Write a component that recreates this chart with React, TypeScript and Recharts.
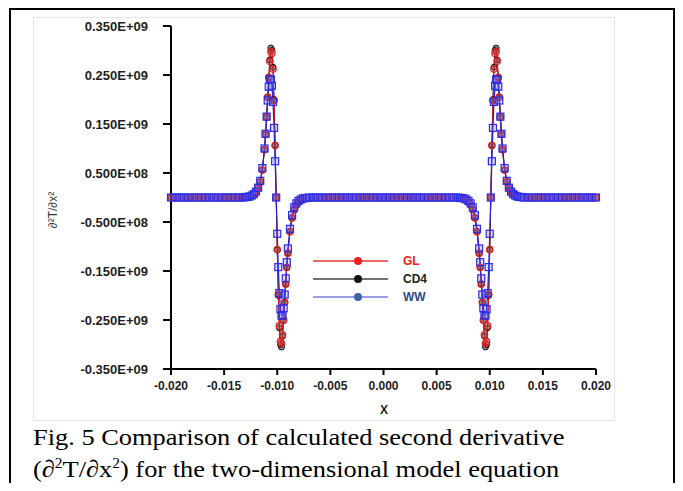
import { LineChart, Line, XAxis, YAxis, Legend } from "recharts";

// x positions (shared by all three schemes)
const xs = [
  -0.0200, -0.0196, -0.0192, -0.0188, -0.0184, -0.0180, -0.0176, -0.0172, -0.0168, -0.0164, -0.0160, -0.0156, -0.0152, -0.0148, -0.0144, -0.0140, -0.0136, -0.0132,
  -0.0130, -0.0128, -0.0126, -0.0124, -0.0122, -0.0120, -0.0118, -0.0116, -0.0114, -0.0112,
  -0.0111, -0.0110, -0.0109, -0.0108, -0.0107, -0.0106, -0.0105, -0.0104, -0.0103, -0.0102, -0.0101, -0.0100, -0.0099, -0.0098, -0.0097, -0.0096, -0.0095, -0.0094, -0.0093, -0.0092, -0.0091,
  -0.0090, -0.0088, -0.0086, -0.0084, -0.0082, -0.0080, -0.0078, -0.0076, -0.0074, -0.0072, -0.0070,
  -0.0066, -0.0062, -0.0058, -0.0054, -0.0050, -0.0046, -0.0042, -0.0038, -0.0034, -0.0030, -0.0026, -0.0022, -0.0018, -0.0014, -0.0010, -0.0006, -0.0002,
  0.0002, 0.0006, 0.0010, 0.0014, 0.0018, 0.0022, 0.0026, 0.0030, 0.0034, 0.0038, 0.0042, 0.0046, 0.0050, 0.0054, 0.0058, 0.0062, 0.0066,
  0.0070, 0.0072, 0.0074, 0.0076, 0.0078, 0.0080, 0.0082, 0.0084, 0.0086, 0.0088, 0.0090,
  0.0091, 0.0092, 0.0093, 0.0094, 0.0095, 0.0096, 0.0097, 0.0098, 0.0099, 0.0100, 0.0101, 0.0102, 0.0103, 0.0104, 0.0105, 0.0106, 0.0107, 0.0108, 0.0109, 0.0110, 0.0111,
  0.0112, 0.0114, 0.0116, 0.0118, 0.0120, 0.0122, 0.0124, 0.0126, 0.0128, 0.0130,
  0.0132, 0.0136, 0.0140, 0.0144, 0.0148, 0.0152, 0.0156, 0.0160, 0.0164, 0.0168, 0.0172, 0.0176, 0.0180, 0.0184, 0.0188, 0.0192, 0.0196, 0.0200,
];

// second derivative values, in units of 1E+09
const gl = [
  0, 0, 0, 0, 0, 0, 0, 0, 0, 0, 0, 0, 0, 0, 0, 0, 0, 0,
  0.001, 0.001, 0.002, 0.004, 0.007, 0.012, 0.020, 0.032, 0.056, 0.098,
  0.130, 0.165, 0.205, 0.245, 0.278, 0.298, 0.294, 0.262, 0.198, 0.106, 0.000, -0.106, -0.198, -0.262, -0.294, -0.298, -0.280, -0.250, -0.214, -0.177, -0.143,
  -0.114, -0.070, -0.042, -0.025, -0.015, -0.009, -0.005, -0.003, -0.002, -0.001, -0.001,
  0, 0, 0, 0, 0, 0, 0, 0, 0, 0, 0, 0, 0, 0, 0, 0, 0,
  0, 0, 0, 0, 0, 0, 0, 0, 0, 0, 0, 0, 0, 0, 0, 0, 0,
  -0.001, -0.001, -0.002, -0.003, -0.005, -0.009, -0.015, -0.025, -0.042, -0.070, -0.114,
  -0.143, -0.177, -0.214, -0.250, -0.280, -0.298, -0.294, -0.262, -0.198, -0.106, 0.000, 0.106, 0.198, 0.262, 0.294, 0.298, 0.278, 0.245, 0.205, 0.165, 0.130,
  0.098, 0.056, 0.032, 0.020, 0.012, 0.007, 0.004, 0.002, 0.001, 0.001,
  0, 0, 0, 0, 0, 0, 0, 0, 0, 0, 0, 0, 0, 0, 0, 0, 0, 0,
];

const cd4 = [
  0, 0, 0, 0, 0, 0, 0, 0, 0, 0, 0, 0, 0, 0, 0, 0, 0, 0,
  0.001, 0.001, 0.002, 0.004, 0.007, 0.012, 0.020, 0.032, 0.056, 0.097,
  0.128, 0.163, 0.204, 0.246, 0.281, 0.305, 0.300, 0.266, 0.200, 0.107, 0.000, -0.107, -0.200, -0.266, -0.300, -0.305, -0.283, -0.251, -0.214, -0.176, -0.142,
  -0.113, -0.069, -0.041, -0.025, -0.015, -0.009, -0.005, -0.003, -0.002, -0.001, -0.001,
  0, 0, 0, 0, 0, 0, 0, 0, 0, 0, 0, 0, 0, 0, 0, 0, 0,
  0, 0, 0, 0, 0, 0, 0, 0, 0, 0, 0, 0, 0, 0, 0, 0, 0,
  -0.001, -0.001, -0.002, -0.003, -0.005, -0.009, -0.015, -0.025, -0.041, -0.069, -0.113,
  -0.142, -0.176, -0.214, -0.251, -0.283, -0.305, -0.300, -0.266, -0.200, -0.107, 0.000, 0.107, 0.200, 0.266, 0.300, 0.305, 0.281, 0.246, 0.204, 0.163, 0.128,
  0.097, 0.056, 0.032, 0.020, 0.012, 0.007, 0.004, 0.002, 0.001, 0.001,
  0, 0, 0, 0, 0, 0, 0, 0, 0, 0, 0, 0, 0, 0, 0, 0, 0, 0,
];

const ww = [
  0, 0, 0, 0, 0, 0, 0, 0, 0, 0, 0, 0, 0, 0, 0, 0, 0, 0,
  0.001, 0.001, 0.002, 0.004, 0.007, 0.012, 0.020, 0.034, 0.060, 0.100,
  0.130, 0.165, 0.198, 0.226, 0.240, 0.241, 0.228, 0.195, 0.142, 0.074, 0.000, -0.074, -0.142, -0.195, -0.228, -0.241, -0.240, -0.226, -0.198, -0.165, -0.132,
  -0.104, -0.064, -0.036, -0.020, -0.012, -0.007, -0.004, -0.002, -0.001, -0.001, 0.000,
  0, 0, 0, 0, 0, 0, 0, 0, 0, 0, 0, 0, 0, 0, 0, 0, 0,
  0, 0, 0, 0, 0, 0, 0, 0, 0, 0, 0, 0, 0, 0, 0, 0, 0,
  0.000, -0.001, -0.001, -0.002, -0.004, -0.007, -0.012, -0.020, -0.036, -0.064, -0.104,
  -0.132, -0.165, -0.198, -0.226, -0.240, -0.241, -0.228, -0.195, -0.142, -0.074, 0.000, 0.074, 0.142, 0.195, 0.228, 0.241, 0.240, 0.226, 0.198, 0.165, 0.130,
  0.100, 0.060, 0.034, 0.020, 0.012, 0.007, 0.004, 0.002, 0.001, 0.001,
  0, 0, 0, 0, 0, 0, 0, 0, 0, 0, 0, 0, 0, 0, 0, 0, 0, 0,
];

const yTicks = [0.35, 0.25, 0.15, 0.05, -0.05, -0.15, -0.25, -0.35];
const yTickLabels = ["0.350E+09", "0.250E+09", "0.150E+09", "0.500E+08", "-0.500E+08", "-0.150E+09", "-0.250E+09", "-0.350E+09"];
const xTicks = [-0.02, -0.015, -0.01, -0.005, 0, 0.005, 0.01, 0.015, 0.02];
const xTickLabels = ["-0.020", "-0.015", "-0.010", "-0.005", "0.000", "0.005", "0.010", "0.015", "0.020"];

const legendItems = [
  { name: "GL", line: "#e03a3a", dot: "#e82020", text: "#e82020" },
  { name: "CD4", line: "#444444", dot: "#111111", text: "#222222" },
  { name: "WW", line: "#7a7ae0", dot: "#3a64a8", text: "#2e4c8c" },
];

const data = xs.map((x, i) => ({ x, gl: gl[i], cd4: cd4[i], ww: ww[i] }));

const sans = "'Liberation Sans', Arial, sans-serif";
const tickFont = { fontFamily: sans, fontSize: 13, fontWeight: 700, fill: "#1e1e1e" };
const xTickFont = { fontFamily: sans, fontSize: 12, fontWeight: 700, fill: "#1e1e1e" };

const SquareDot = (props: any) => {
  const { cx, cy, index } = props;
  if (cx == null || cy == null) return <g key={index} />;
  return <rect key={index} x={cx - 3.5} y={cy - 3.5} width={7} height={7} fill="rgba(110,110,255,0.25)" stroke="#2b2be6" strokeWidth={1.2} />;
};

const LegendBox = () => (
  <svg width={130} height={60}>
    {legendItems.map((it, i) => (
      <g key={it.name}>
        <line x1={8} x2={83} y1={11 + i * 18} y2={11 + i * 18} stroke={it.line} strokeWidth={1.5} />
        <circle cx={53} cy={11 + i * 18} r={4} fill={it.dot} />
        <text x={98} y={15 + i * 18} {...xTickFont} fill={it.text}>{it.name}</text>
      </g>
    ))}
  </svg>
);

// page frames (only the area inside the body margin is photographed)
const Frames = () => (
  <svg width={683} height={491} style={{ position: "absolute", left: 0, top: 0, pointerEvents: "none", zIndex: 5 }}>
    <rect x={33.5} y={17.5} width={581} height={403} fill="none" stroke="#e4e4e4" strokeWidth={1} />
    <rect x={10} y={9} width={664} height={500} fill="none" stroke="#000" strokeWidth={2} />
  </svg>
);

export default function App() {
  return (
    <div style={{ position: "relative", width: 683, height: 491, margin: -8, overflow: "hidden", background: "#fff" }}>
      <div style={{ position: "absolute", left: 0, top: 0 }}>
        <LineChart width={683} height={491} data={data} margin={{ top: 26, right: 87, bottom: 92, left: 51 }}>
          <XAxis
            dataKey="x"
            type="number"
            domain={[-0.02, 0.02]}
            ticks={xTicks}
            tickFormatter={(v: number) => xTickLabels[xTicks.indexOf(v)]}
            tick={xTickFont}
            tickSize={6}
            tickMargin={6}
            height={30}
            axisLine={{ stroke: "#000", strokeWidth: 2 }}
            tickLine={{ stroke: "#000", strokeWidth: 2 }}
            label={{ content: () => <text x={384} y={414} textAnchor="middle" {...xTickFont}>X</text> }}
          />
          <YAxis
            type="number"
            domain={[-0.35, 0.35]}
            ticks={yTicks}
            tickFormatter={(v: number) => yTickLabels[yTicks.indexOf(v)]}
            tick={tickFont}
            tickSize={8}
            tickMargin={15}
            width={120}
            axisLine={{ stroke: "#000", strokeWidth: 2 }}
            tickLine={{ stroke: "#000", strokeWidth: 2 }}
            label={{
              content: () => (
                <text x={57} y={210} transform="rotate(-90, 57, 210)" textAnchor="middle" fontFamily={sans} fontSize={12} fill="#333">
                  ∂²T/∂x²
                </text>
              ),
            }}
          />
          <Legend
            layout="horizontal"
            verticalAlign="middle"
            align="center"
            content={<LegendBox />}
            wrapperStyle={{ left: 305, top: 250, width: 130, height: 60 }}
          />
          <Line dataKey="cd4" name="CD4" stroke="#111" strokeWidth={1} isAnimationActive={false}
            dot={{ r: 3, stroke: "#111", strokeWidth: 1, fill: "rgba(30,30,30,0.5)" }} />
          <Line dataKey="gl" name="GL" stroke="#e01818" strokeWidth={1} isAnimationActive={false}
            dot={{ r: 3.2, stroke: "#e02020", strokeWidth: 1.2, fill: "rgba(240,90,90,0.35)" }} />
          <Line dataKey="ww" name="WW" stroke="#2020d8" strokeWidth={1.2} isAnimationActive={false} dot={<SquareDot />} />
        </LineChart>
      </div>
      <div style={{ position: "absolute", left: 33, top: 421, fontFamily: "'Liberation Serif', 'Times New Roman', serif", fontSize: 24, lineHeight: "32px", color: "#000", whiteSpace: "nowrap", transform: "scaleX(1.1)", transformOrigin: "left top" }}>
        <div>Fig. 5 Comparison of calculated second derivative</div>
        <div>(∂<sup style={{ fontSize: 14, verticalAlign: 9, lineHeight: 0 }}>2</sup>T/∂x<sup style={{ fontSize: 14, verticalAlign: 9, lineHeight: 0 }}>2</sup>) for the two-dimensional model equation</div>
      </div>
      <Frames />
    </div>
  );
}
